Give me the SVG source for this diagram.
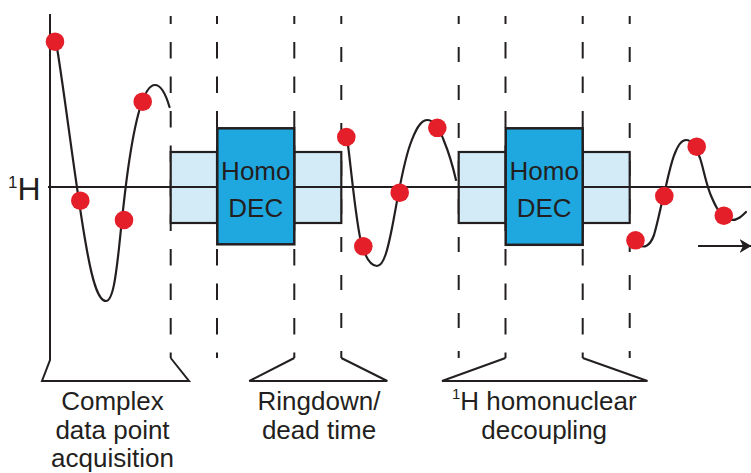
<svg xmlns="http://www.w3.org/2000/svg" width="751" height="473" viewBox="0 0 751 473">
<defs>
<style>
.ln{fill:none;stroke:#231f20;stroke-width:2}
.da{fill:none;stroke:#231f20;stroke-width:2;stroke-dasharray:16.5 18;stroke-dashoffset:8.5}
.db{fill:none;stroke:#231f20;stroke-width:2;stroke-dasharray:15 23;stroke-dashoffset:7}
.lb{fill:#d3ebf7;stroke:#231f20;stroke-width:2.2}
.dk{fill:#1fa8e0;stroke:#231f20;stroke-width:2.5}
.wv{fill:none;stroke:#231f20;stroke-width:2.2;stroke-linecap:round}
.pt{fill:#e41f2a}
.tx{font-family:"Liberation Sans",Arial,sans-serif;fill:#231f20}
</style>
<marker id="arr" viewBox="0 0 12 14" refX="11.5" refY="7" markerWidth="12" markerHeight="14" markerUnits="userSpaceOnUse" orient="auto">
<path d="M0,0 L12,7 L0,14 L3.5,7 Z" fill="#231f20"/>
</marker>
</defs>
<g id="connectors">
<path class="da" d="M170.7,16V358M217,16V358M294.3,16V358M505.5,16V358M582.7,16V358"/>
<path class="db" d="M341.3,16V358M458.7,16V358M629.7,16V358"/>
</g>
<g id="light-boxes">
<rect class="lb" x="170.7" y="152" width="46.3" height="71"/>
<rect class="lb" x="294.3" y="152" width="47" height="71"/>
<rect class="lb" x="458.7" y="152" width="46.8" height="71"/>
<rect class="lb" x="582.7" y="152" width="47" height="71"/>
</g>
<g id="axis">
<path class="ln" d="M48,187H751"/>
<path class="ln" d="M50,14V360L42,381H189L170.7,358"/>
<text class="tx" x="8" y="188" font-size="17">1</text>
<text class="tx" x="17.5" y="199.5" font-size="32">H</text>
</g>
<g id="homodec1">
<rect class="dk" x="217.3" y="128.3" width="77" height="116"/>
<text class="tx" x="255.8" y="180" font-size="26" text-anchor="middle">Homo</text>
<text class="tx" x="255.8" y="217.3" font-size="26" text-anchor="middle">DEC</text>
</g>
<g id="homodec2">
<rect class="dk" x="505.7" y="128.3" width="77" height="116.5"/>
<text class="tx" x="544.2" y="180" font-size="26" text-anchor="middle">Homo</text>
<text class="tx" x="544.2" y="217.3" font-size="26" text-anchor="middle">DEC</text>
</g>
<g id="brackets">
<path class="ln" d="M294.3,358L249.3,381H387.3L341.3,358"/>
<path class="ln" d="M505.5,358L442,381H647.5L582.7,358"/>
</g>
<g id="waveforms">
<path class="wv" d="M56,42C63,80 76,190 86,245C92,280 98,301 106,301C113,301 116,275 119,248C123,210 129,145 140,108C144,95 149,85 155,85C161,85 166,95 169.5,107"/>
<path class="wv" d="M347,137C352,175 356,225 362,246C366,258 371,266 377,266C384,266 388,248 392,228C397,203 402,168 410,145C415,131 420,120 427,120C434,120 440,130 444,141C449,153 453,167 456,180"/>
<path class="wv" d="M636,243C644,250 650,246 654,235C658,222 662,200 666,186C670,168 676,140 686,140C692,140 695,146 700,158C704,170 706,185 712,198C717,210 724,220 732,220C738,220 742,216 746,212"/>
<path class="ln" d="M698,246H751" marker-end="url(#arr)"/>
</g>
<g id="points">
<circle class="pt" cx="55" cy="41.7" r="9.3"/>
<circle class="pt" cx="80.3" cy="200.7" r="9.3"/>
<circle class="pt" cx="124" cy="220" r="9.3"/>
<circle class="pt" cx="142.7" cy="101.7" r="9.3"/>
<circle class="pt" cx="346.3" cy="137" r="9.3"/>
<circle class="pt" cx="363.3" cy="246.3" r="9.3"/>
<circle class="pt" cx="399.7" cy="192.7" r="9.3"/>
<circle class="pt" cx="437.3" cy="127.8" r="9.3"/>
<circle class="pt" cx="635.5" cy="240.3" r="9.3"/>
<circle class="pt" cx="664.3" cy="196" r="9.3"/>
<circle class="pt" cx="696.7" cy="146.7" r="9.3"/>
<circle class="pt" cx="723.8" cy="215.7" r="9.3"/>
</g>
<g id="labels">
<text class="tx" font-size="26" text-anchor="middle"><tspan x="112.5" y="410">Complex</tspan><tspan x="112.5" y="438.5">data point</tspan><tspan x="112.5" y="467">acquisition</tspan></text>
<text class="tx" font-size="26" text-anchor="middle"><tspan x="319" y="410">Ringdown/</tspan><tspan x="319" y="438.5">dead time</tspan></text>
<text class="tx" font-size="26" x="452" y="410"><tspan font-size="15" dy="-11">1</tspan><tspan dy="11">H homonuclear</tspan></text>
<text class="tx" font-size="26" x="544.2" y="438.5" text-anchor="middle">decoupling</text>
</g>
</svg>
